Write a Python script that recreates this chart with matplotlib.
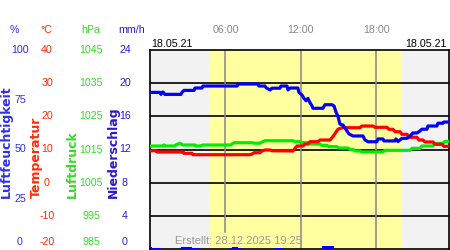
import matplotlib
matplotlib.use('Agg')
import matplotlib.pyplot as plt
import matplotlib.transforms as mtransforms

# ---------------- data ----------------
hum_t = [0.0, 0.79, 0.87, 1.03, 1.19, 2.46, 2.54, 2.70, 3.50, 3.58, 4.13, 4.21, 6.92, 7.00,
         8.59, 8.66, 9.14, 9.22, 9.54, 9.70, 10.33, 10.41, 10.89, 10.97, 11.13, 11.76, 11.84,
         12.08, 12.24, 12.40, 12.56, 12.72, 12.88, 12.96, 13.75, 13.91, 14.47, 14.63, 14.79,
         14.94, 15.10, 15.34, 15.82, 16.14, 16.93, 17.09, 17.33, 18.04, 18.12, 18.52, 18.60,
         19.48, 19.55, 19.71, 20.03, 20.43, 20.67, 20.91, 21.22, 21.46, 21.62, 22.02, 22.10,
         22.81, 22.89, 23.29, 23.37, 23.77]
hum_v = [78.7, 78.7, 77.7, 78.9, 77.7, 77.7, 78.7, 79.7, 79.7, 80.9, 80.9, 81.9, 81.9, 82.9,
         82.9, 81.9, 81.9, 81.1, 79.9, 80.8, 80.8, 81.9, 81.9, 79.9, 80.9, 80.9, 78.7,
         77.4, 75.7, 74.5, 75.7, 73.5, 71.9, 70.7, 70.7, 72.5, 72.5, 71.9, 68.7,
         66.8, 62.8, 62.3, 57.8, 56.8, 56.8, 54.8, 53.9, 53.9, 55.3, 55.3, 54.3,
         54.3, 55.3, 54.0, 55.6, 55.6, 56.8, 58.3, 58.3, 59.3, 60.2, 60.2, 61.8,
         61.8, 63.2, 63.2, 63.8, 63.8]

temp_t = [0.0, 0.48, 0.56, 2.62, 2.70, 3.34, 3.42, 7.95, 8.11, 8.27, 8.74, 8.90, 9.14, 9.54,
          9.70, 11.37, 11.53, 11.69, 12.16, 12.32, 12.56, 12.72, 13.35, 13.51, 14.31, 14.47,
          14.63, 14.79, 14.94, 15.26, 16.69, 16.85, 17.73, 17.89, 18.84, 19.00, 19.32, 19.48,
          19.87, 20.03, 20.43, 20.59, 21.22, 21.38, 21.70, 21.86, 22.50, 22.66, 23.21, 23.37,
          23.77]
temp_v = [9.63, 9.63, 9.24, 9.24, 8.85, 8.85, 8.43, 8.43, 8.64, 9.03, 9.03, 9.55, 9.85, 9.85,
          9.63, 9.55, 10.36, 11.05, 11.05, 11.66, 11.66, 12.35, 12.35, 12.86, 12.86, 13.56,
          14.37, 15.27, 16.09, 16.57, 16.57, 17.08, 17.08, 16.69, 16.69, 16.09, 16.09, 15.36,
          15.36, 14.58, 14.58, 13.68, 13.68, 12.86, 12.86, 12.26, 12.26, 11.56, 11.56, 10.96,
          10.96]

pres_t = [0.0, 1.03, 1.11, 1.19, 1.99, 2.07, 2.38, 2.62, 3.58, 3.66, 3.97, 4.21, 6.36, 6.52,
          6.68, 8.11, 8.27, 8.74, 8.90, 9.14, 11.37, 11.53, 11.92, 12.08, 12.56, 12.72, 13.51,
          13.67, 14.07, 14.23, 14.86, 15.02, 15.74, 15.90, 16.14, 16.30, 16.69, 16.85, 18.52,
          18.68, 20.67, 20.83, 21.46, 21.62, 22.50, 22.66, 23.29, 23.45, 23.77]
pres_v = [1016.05, 1016.05, 1016.4, 1016.05, 1016.05, 1016.4, 1016.9, 1016.35, 1016.35,
          1016.05, 1016.05, 1016.35, 1016.35, 1016.65, 1017.05, 1017.05, 1016.9, 1016.9,
          1017.25, 1017.65, 1017.65, 1017.35, 1017.35, 1017.05, 1017.05, 1016.65, 1016.65,
          1016.25, 1016.25, 1015.85, 1015.85, 1015.45, 1015.45, 1015.05, 1015.05, 1014.55,
          1014.55, 1014.25, 1014.25, 1014.75, 1014.75, 1015.35, 1015.35, 1016.05, 1016.05,
          1016.85, 1016.85, 1017.45, 1017.45]

rain_t = [0.0, 0.17, 0.33, 0.5, 0.67,
          2.33, 2.5, 2.67, 2.83, 3.0, 3.17, 3.33, 3.5, 3.67, 3.83,
          6.33, 6.5, 6.67, 6.83, 7.0, 7.17,
          9.83, 10.0, 10.17, 10.33, 10.5,
          13.67, 13.83, 14.0, 14.17, 14.33, 14.5]
rain_v = [0.3, 0.1, 0.1, 0.1, 0.1,
          0.1, 0.2, 0.3, 0.3, 0.3, 0.2, 0.1, 0.1, 0.1, 0.1,
          0.1, 0.2, 0.2, 0.2, 0.1, 0.1,
          0.1, 0.1, 0.1, 0.1, 0.1,
          0.4, 0.4, 0.4, 0.4, 0.4, 0.4]

sunrise, sunset = 4.77, 19.93
hour_ticks = [6, 12, 18]
hour_labels = ['06:00', '12:00', '18:00']
date_left = '18.05.21'
date_right = '18.05.21'
created = 'Erstellt: 28.12.2025 19:25'

hum_ticks = [100, 75, 50, 25, 0]
temp_ticks = [40, 30, 20, 10, 0, -10, -20]
pres_ticks = [1045, 1035, 1025, 1015, 1005, 995, 985]
rain_ticks = [24, 20, 16, 12, 8, 4, 0]

# ---------------- style ----------------
C_HUM = '#0000ff'
C_TEMP = '#ff0000'
C_PRES = '#00ee00'
C_RAIN = '#0000ff'
C_HUM_T = '#3030e8'
C_TEMP_T = '#ff2a00'
C_PRES_T = '#33dd22'
C_RAIN_T = '#2a1acc'

plt.rcParams['font.family'] = ['Liberation Sans', 'DejaVu Sans']

W, H = 450, 250
fig = plt.figure(figsize=(W / 100, H / 100), dpi=100)
fig.patch.set_facecolor('white')

ax = fig.add_axes([150 / W, 1 / H, 299 / W, 199 / H])
ax.set_facecolor('#f2f2f2')
ax.set_xlim(0, 23.77)
ax.set_ylim(-20, 40)
ax.set_xticks([])
ax.set_yticks([])
for s in ax.spines.values():
    s.set_linewidth(1.2)
    s.set_color('black')

ax.axvspan(sunrise, sunset, color='#ffffa0', lw=0, zorder=0)
for v in temp_ticks[1:-1]:
    ax.axhline(v, color='black', lw=1.2, zorder=1)
for h in hour_ticks:
    ymin = 0.085 if h == hour_ticks[0] else 0
    ax.axvline(h, ymin=ymin, color='#888888', lw=1.1, zorder=1)

def twin(lo, hi):
    a = ax.twinx()
    a.set_ylim(lo, hi)
    a.axis('off')
    return a

ax_p = twin(985, 1045)
ax_t = twin(-20, 40)
ax_h = twin(0, 100)
ax_r = twin(0, 24)

ax_p.plot(pres_t, pres_v, color=C_PRES, lw=2.3, solid_capstyle='butt')
ax_t.plot(temp_t, temp_v, color=C_TEMP, lw=2.3, solid_capstyle='butt')
ax_h.plot(hum_t, hum_v, color=C_HUM, lw=2.3, solid_capstyle='butt')
ax_r.bar(rain_t, rain_v, width=1 / 6, align='edge', color=C_RAIN, lw=0)

# ---------------- texts ----------------
fs = 7.7
def left_labels(ticks, axis, xpx, color):
    tr = mtransforms.blended_transform_factory(fig.transFigure, axis.transData)
    for i, v in enumerate(ticks):
        off = 0
        if i == len(ticks) - 1:
            off = 5 / 72.0
        t = mtransforms.offset_copy(tr, fig=fig, x=0, y=off, units='inches')
        fig.text(xpx / W, v, str(v), transform=t, ha='center', va='center',
                 color=color, fontsize=fs)

left_labels(hum_ticks, ax_h, 20, C_HUM_T)
left_labels(temp_ticks, ax_t, 47, C_TEMP_T)
left_labels(pres_ticks, ax_p, 91, C_PRES_T)
left_labels(rain_ticks, ax_r, 125, C_RAIN_T)

yh = 1 - 30 / H
fig.text(14 / W, yh, '%', color=C_HUM_T, fontsize=fs, ha='center', va='center')
fig.text(46 / W, yh, '°C', color=C_TEMP_T, fontsize=fs, ha='center', va='center')
fig.text(91 / W, yh, 'hPa', color=C_PRES_T, fontsize=fs, ha='center', va='center')
fig.text(132 / W, yh, 'mm/h', color=C_RAIN_T, fontsize=fs, ha='center', va='center')

yb = 1 - 198 / H
rot_kw = dict(rotation=90, ha='center', va='bottom', fontsize=9,
              fontweight='bold', family=['DejaVu Sans'])
fig.text(6 / W, yb, 'Luftfeuchtigkeit', color=C_HUM_T, **rot_kw)
fig.text(36 / W, yb, 'Temperatur', color=C_TEMP_T, **rot_kw)
fig.text(72 / W, yb, 'Luftdruck', color=C_PRES_T, **rot_kw)
fig.text(113 / W, yb, 'Niederschlag', color=C_RAIN_T, **rot_kw)

trx = mtransforms.blended_transform_factory(ax.transData, fig.transFigure)
for h, lab in zip(hour_ticks, hour_labels):
    fig.text(h, 1 - 30 / H, lab, transform=trx, ha='center', va='center',
             color='#888888', fontsize=fs)

fig.text(151 / W, 1 - 44 / H, date_left, ha='left', va='center', color='black', fontsize=fs)
fig.text(447 / W, 1 - 44 / H, date_right, ha='right', va='center', color='black', fontsize=fs)

fig.text(175 / W, 1 - 241 / H, created, ha='left', va='center', color='#999999',
         fontsize=8, zorder=10)

fig.savefig('out.png', dpi=100)
